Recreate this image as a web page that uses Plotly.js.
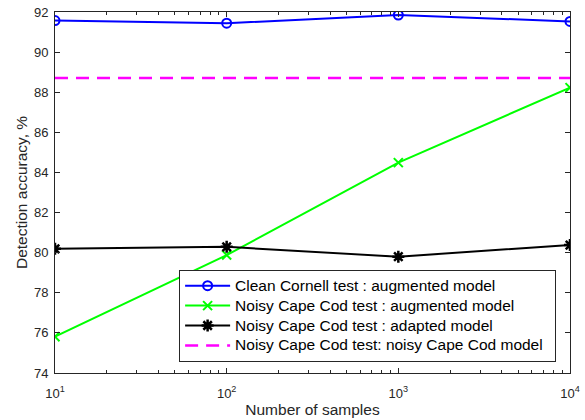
<!DOCTYPE html>
<html>
<head>
<meta charset="utf-8">
<script src="https://cdn.plot.ly/plotly-3.0.1.min.js"></script>
<style>
html,body{margin:0;padding:0;background:#fff;}
#chart{width:585px;height:420px;}
#chart .legendtext{font-size:15.5px !important;}
</style>
</head>
<body>
<div id="chart"></div>
<script>
// Data
const samples = [10, 100, 1000, 10000];
const cleanCornellAug = [91.57, 91.44, 91.85, 91.53];
const noisyCapeCodAug = [75.81, 79.88, 84.49, 88.23];
const noisyCapeCodAdapted = [80.19, 80.29, 79.80, 80.38];
const baselineX = [10, 10000];
const noisyCapeCodModel = [88.71, 88.71];
const seriesNames = [
  'Clean Cornell test : augmented model',
  'Noisy Cape Cod test : augmented model',
  'Noisy Cape Cod test : adapted model',
  'Noisy Cape Cod test: noisy Cape Cod model'
];
const xTickVals = [10, 100, 1000, 10000];
const xTickText = ['10<sup>1</sup>', '10<sup>2</sup>', '10<sup>3</sup>', '10<sup>4</sup>'];
const yTickVals = [74, 76, 78, 80, 82, 84, 86, 88, 90, 92];

const minorVals = [];
for (let d = 10; d < 10000; d *= 10) {
  for (let k = 2; k <= 9; k++) minorVals.push(d * k);
}

const FONT = 'Liberation Sans, Arial, Helvetica, sans-serif';

const traces = [
  {x: samples, y: cleanCornellAug, name: seriesNames[0], mode: 'lines+markers',
   line: {color: '#0000ff', width: 2},
   marker: {symbol: 'circle-open', size: 9, color: '#0000ff', line: {width: 2, color: '#0000ff'}}},
  {x: samples, y: noisyCapeCodAug, name: seriesNames[1], mode: 'lines+markers',
   line: {color: '#00ff00', width: 2},
   marker: {symbol: 'x-thin-open', size: 9, color: '#00ff00', line: {width: 2, color: '#00ff00'}}},
  {x: samples, y: noisyCapeCodAdapted, name: seriesNames[2], mode: 'lines+markers',
   line: {color: '#000000', width: 2},
   marker: {symbol: 'asterisk-open', size: 10, color: '#000000', line: {width: 2.5, color: '#000000'}}},
  {x: baselineX, y: noisyCapeCodModel, name: seriesNames[3], mode: 'lines',
   line: {color: '#ff00ff', width: 2.5, dash: '13px,8px'}}
];

const axisCommon = {
  showline: true, linecolor: '#262626', linewidth: 1, mirror: 'ticks',
  ticks: 'inside', ticklen: 5, tickcolor: '#262626', tickwidth: 1,
  showgrid: false, zeroline: false,
  tickfont: {family: FONT, size: 13, color: '#262626'}
};

const layout = {
  width: 585, height: 420,
  margin: {l: 55, r: 15, t: 12, b: 47},
  paper_bgcolor: '#ffffff', plot_bgcolor: '#ffffff',
  font: {family: FONT, color: '#262626'},
  showlegend: true,
  xaxis: Object.assign({}, axisCommon, {
    type: 'log', range: [1, 4],
    tickmode: 'array', tickvals: xTickVals, ticktext: xTickText,
    ticklabelstandoff: 8,
    minor: {tickmode: 'array', tickvals: minorVals, ticks: 'inside', ticklen: 3, tickcolor: '#262626', showgrid: false},
    title: {text: 'Number of samples', font: {size: 15.5, color: '#262626'}, standoff: 4}
  }),
  yaxis: Object.assign({}, axisCommon, {
    range: [74, 92], tickmode: 'array', tickvals: yTickVals,
    ticklabelstandoff: 3,
    title: {text: 'Detection accuracy, %', font: {size: 15.5, color: '#262626'}, standoff: 2}
  }),
  legend: {
    orientation: 'h',
    x: 0.241, y: 0.286, xanchor: 'left', yanchor: 'top',
    bgcolor: '#ffffff', bordercolor: '#262626', borderwidth: 1,
    font: {size: 13, color: '#000000', family: FONT},
    itemwidth: 45, tracegroupgap: 0,
    entrywidthmode: 'pixels', entrywidth: 315
  }
};

Plotly.newPlot('chart', traces, layout, {displayModeBar: false, staticPlot: true});
</script>
</body>
</html>
